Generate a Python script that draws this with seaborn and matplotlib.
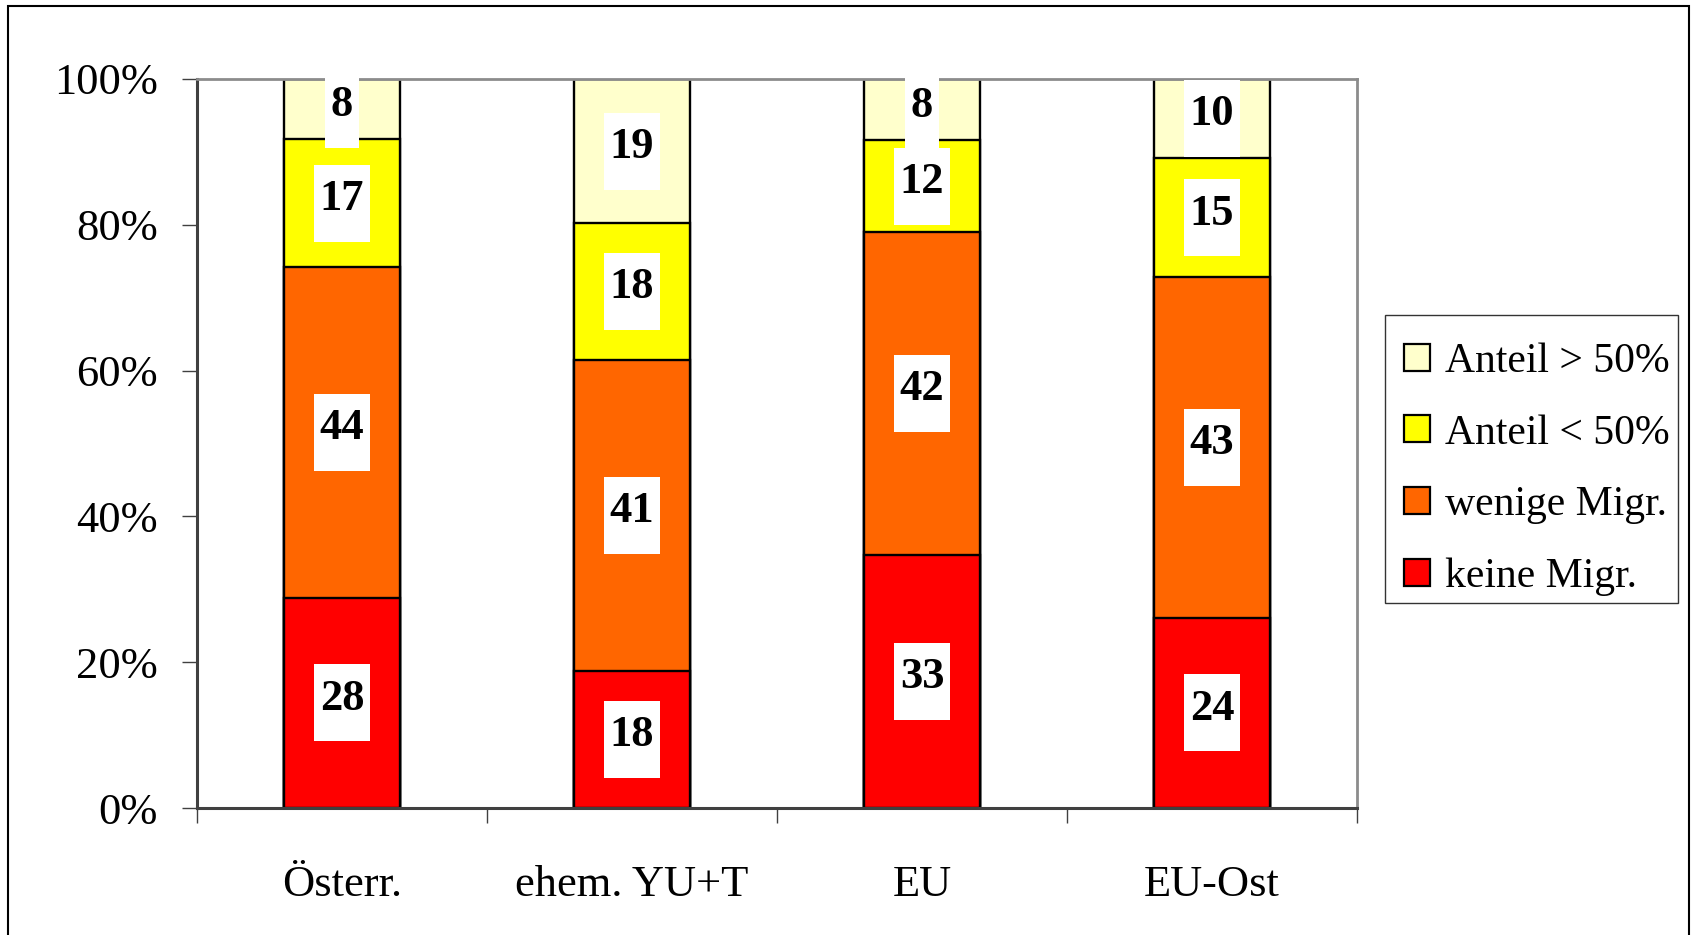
import numpy as np
import pandas as pd
import matplotlib
matplotlib.use("Agg")
import matplotlib.pyplot as plt
import seaborn as sns
from matplotlib.patches import Rectangle, Patch
from matplotlib.transforms import IdentityTransform

# Survey counts per origin group
categories = ["Österr.", "ehem. YU+T", "EU", "EU-Ost"]
keine_migr = [28, 18, 33, 24]
wenige_migr = [44, 41, 42, 43]
anteil_unter_50 = [17, 18, 12, 15]
anteil_ueber_50 = [8, 19, 8, 10]

series_names = ["keine Migr.", "wenige Migr.", "Anteil < 50%", "Anteil > 50%"]
series_colors = ["#FF0000", "#FF6600", "#FFFF00", "#FFFFCC"]
y_ticks = [0, 20, 40, 60, 80, 100]
y_tick_labels = ["0%", "20%", "40%", "60%", "80%", "100%"]

sns.set_theme(style="white")
plt.rcParams["font.family"] = ["Liberation Serif", "DejaVu Serif"]
plt.rcParams["text.color"] = "black"

counts = np.array([keine_migr, wenige_migr, anteil_unter_50, anteil_ueber_50], dtype=float)
shares = counts / counts.sum(axis=0) * 100.0
cum = np.cumsum(shares, axis=0)

W, H = 1692, 935
fig = plt.figure(figsize=(W / 100, H / 100), dpi=100)
ax = fig.add_axes([197 / W, 1 - 808 / H, (1357 - 197) / W, (808 - 79) / H])

# Stacked bars: draw cumulative heights from the top layer down
for i in range(len(series_names) - 1, -1, -1):
    df = pd.DataFrame({"cat": categories, "val": cum[i]})
    sns.barplot(data=df, x="cat", y="val", color=series_colors[i], width=0.4,
                edgecolor="black", linewidth=1.7, saturation=1, ax=ax, zorder=2)

ax.set_xlim(-0.5, 3.5)
ax.set_ylim(0, 100)
ax.set_xlabel("")
ax.set_ylabel("")

# Axis frame
for side in ["left", "bottom"]:
    ax.spines[side].set_color("#404040")
    ax.spines[side].set_linewidth(2.2)
for side in ["top", "right"]:
    ax.spines[side].set_color("#8c8c8c")
    ax.spines[side].set_linewidth(2.0)

ax.set_yticks(y_ticks)
ax.set_yticklabels(y_tick_labels, fontsize=32)
ax.tick_params(axis="y", direction="out", length=11, width=1.0, color="#404040",
               labelcolor="black", pad=17, left=True)

# Category boundaries as major ticks, names as minor ticks
ax.set_xticks(np.arange(-0.5, 4.0, 1.0))
ax.set_xticklabels([])
ax.set_xticks(np.arange(len(categories)), minor=True)
ax.set_xticklabels(categories, minor=True, fontsize=32)
ax.tick_params(axis="x", which="major", direction="out", length=11, width=1.0,
               color="#404040", bottom=True)
ax.tick_params(axis="x", which="minor", length=0, pad=41, bottom=True,
               labelcolor="black")

# Value labels in white boxes
fig.canvas.draw()
renderer = fig.canvas.get_renderer()
for i in range(len(series_names)):
    for j in range(len(categories)):
        center = cum[i, j] - shares[i, j] / 2
        txt = ax.annotate(f"{int(counts[i, j])}", xy=(j, center), xytext=(0, 3),
                          textcoords="offset points", ha="center", va="center",
                          fontsize=32, fontweight="bold", color="black", zorder=6,
                          annotation_clip=False)
        bb = txt.get_window_extent(renderer)
        cx, cy = ax.transData.transform((j, center))
        w = bb.width + 12
        h = 77
        rect = Rectangle((cx - w / 2, cy - h / 2), w, h, transform=IdentityTransform(),
                         facecolor="white", edgecolor="none", zorder=5, clip_on=False)
        ax.add_artist(rect)

# Legend entries (frame drawn separately)
handles = [Patch(facecolor=series_colors[i], edgecolor="black", linewidth=1.6,
                 label=series_names[i]) for i in range(len(series_names) - 1, -1, -1)]
leg = fig.legend(handles=handles, loc="upper left",
                 bbox_to_anchor=(1385 / W, 1 - 323.5 / H),
                 fontsize=30, frameon=False,
                 handlelength=0.62, handleheight=0.62, handletextpad=0.38,
                 labelspacing=0.8, borderpad=0.45, borderaxespad=0)
fig.patches.append(Rectangle((1385 / W, 1 - 603 / H), (1678 - 1385) / W, (603 - 315) / H,
                             transform=fig.transFigure, facecolor="white",
                             edgecolor="#333333", linewidth=1.0, zorder=0))

# Outer figure frame (bottom edge lies below the canvas)
fig.patches.append(Rectangle((8 / W, -0.02), (1689 - 8) / W, 1.02 - 6 / H,
                             transform=fig.transFigure, fill=False,
                             edgecolor="black", linewidth=1.5))

fig.savefig("out.png", dpi=100)
